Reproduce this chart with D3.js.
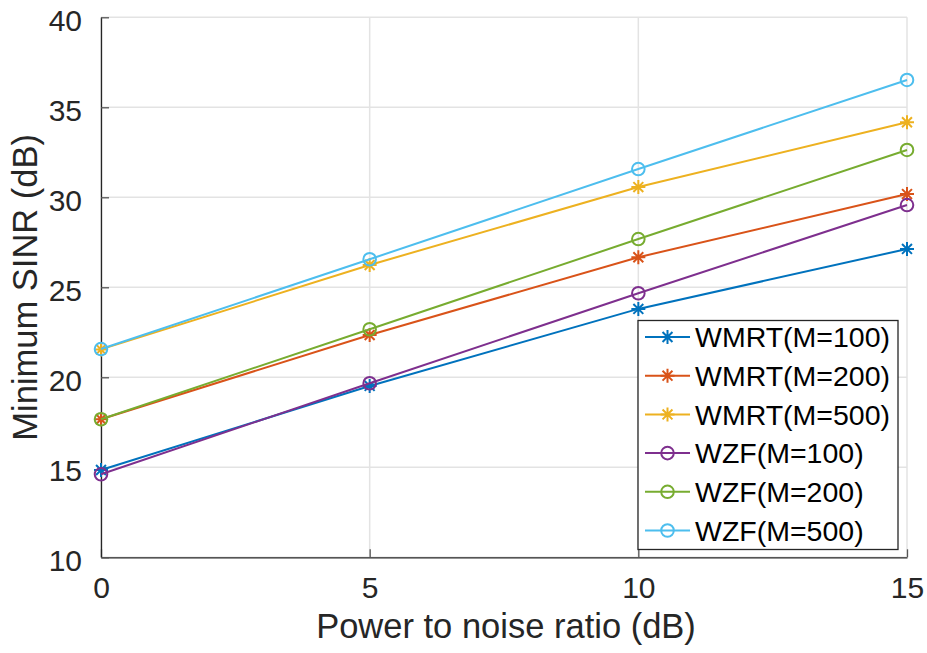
<!DOCTYPE html>
<html>
<head>
<meta charset="utf-8">
<script src="https://cdn.jsdelivr.net/npm/d3@7"></script>
<style>
  html, body { margin: 0; padding: 0; background: #fff; }
  svg { display: block; font-family: "Liberation Sans", Arial, Helvetica, sans-serif; }
</style>
</head>
<body>
<svg id="chart" width="927" height="653"></svg>
<script>
// Power to noise ratio (dB)
const pnr = [0, 5, 10, 15];

// Minimum SINR (dB) per scheme
const wmrt100 = [14.85, 19.52, 23.80, 27.13];
const wmrt200 = [17.67, 22.35, 26.67, 30.18];
const wmrt500 = [21.55, 26.24, 30.57, 34.17];
const wzf100  = [14.61, 19.67, 24.67, 29.57];
const wzf200  = [17.67, 22.67, 27.68, 32.63];
const wzf500  = [21.57, 26.56, 31.57, 36.52];

const seriesNames  = ["WMRT(M=100)", "WMRT(M=200)", "WMRT(M=500)", "WZF(M=100)", "WZF(M=200)", "WZF(M=500)"];
const seriesValues = [wmrt100, wmrt200, wmrt500, wzf100, wzf200, wzf500];
const seriesMarker = ["star", "star", "star", "circle", "circle", "circle"];
const seriesColors = ["#0072BD", "#D95319", "#EDB120", "#7E2F8E", "#77AC30", "#4DBEEE"];

const xTicks = [0, 5, 10, 15];
const yTicks = [10, 15, 20, 25, 30, 35, 40];

const svg = d3.select("#chart");
const plot = { left: 101, right: 907, top: 17.3, bottom: 557.3 };

const x = d3.scaleLinear().domain([0, 15]).range([plot.left, plot.right]);
const y = d3.scaleLinear().domain([10, 40]).range([plot.bottom, plot.top]);

const axisColor = "#262626";
const gridColor = "#e3e3e3";

// grid
const grid = svg.append("g");
grid.selectAll("line.gx").data(xTicks).join("line")
  .attr("x1", d => x(d)).attr("x2", d => x(d))
  .attr("y1", plot.top).attr("y2", plot.bottom)
  .attr("stroke", gridColor).attr("stroke-width", 1.5);
grid.selectAll("line.gy").data(yTicks).join("line")
  .attr("x1", plot.left).attr("x2", plot.right)
  .attr("y1", d => y(d)).attr("y2", d => y(d))
  .attr("stroke", gridColor).attr("stroke-width", 1.5);

// axes (ticks inside)
const xAxis = d3.axisBottom(x).tickValues(xTicks).tickSizeInner(-8).tickSizeOuter(0).tickPadding(19);
const yAxis = d3.axisLeft(y).tickValues(yTicks).tickSizeInner(-8).tickSizeOuter(0).tickPadding(19);

const gx = svg.append("g").attr("transform", `translate(0,${plot.bottom})`).call(xAxis);
const gy = svg.append("g").attr("transform", `translate(${plot.left},0)`).call(yAxis);

[gx, gy].forEach(g => {
  g.select(".domain").attr("stroke", axisColor).attr("stroke-width", 1.3);
  g.selectAll(".tick line").attr("stroke", "#555").attr("stroke-width", 1.3);
  g.selectAll(".tick text").attr("fill", axisColor)
    .style("font-size", "30px").style("font-family", "'Liberation Sans', Arial, sans-serif");
});
gx.selectAll(".tick text").attr("dy", "0.71em");
gy.selectAll(".tick text").attr("dy", "0.45em");

// axis labels
svg.append("text")
  .attr("x", (plot.left + plot.right) / 2 + 2).attr("y", 638)
  .attr("text-anchor", "middle").attr("fill", axisColor)
  .style("font-size", "34.5px")
  .text("Power to noise ratio (dB)");

svg.append("text")
  .attr("transform", `translate(37,${(plot.top + plot.bottom) / 2}) rotate(-90)`)
  .attr("text-anchor", "middle").attr("fill", axisColor)
  .style("font-size", "34.5px")
  .text("Minimum SINR (dB)");

// marker drawing
function drawMarker(g, type, cx, cy, color) {
  if (type === "circle") {
    g.append("circle").attr("cx", cx).attr("cy", cy).attr("r", 6.3)
      .attr("fill", "none").attr("stroke", color).attr("stroke-width", 2);
  } else {
    const r = 7, d = r * Math.SQRT1_2;
    const p = `M${cx - r},${cy}L${cx + r},${cy}M${cx},${cy - r}L${cx},${cy + r}` +
              `M${cx - d},${cy - d}L${cx + d},${cy + d}M${cx - d},${cy + d}L${cx + d},${cy - d}`;
    g.append("path").attr("d", p).attr("fill", "none").attr("stroke", color).attr("stroke-width", 2);
  }
}

// series
const line = d3.line().x((d, i) => x(pnr[i])).y(d => y(d));
seriesValues.forEach((vals, k) => {
  const g = svg.append("g");
  g.append("path").datum(vals).attr("d", line)
    .attr("fill", "none").attr("stroke", seriesColors[k]).attr("stroke-width", 2);
  vals.forEach((v, i) => drawMarker(g, seriesMarker[k], x(pnr[i]), y(v), seriesColors[k]));
});

// legend
const lg = svg.append("g");
lg.append("rect").attr("x", 638).attr("y", 320.5).attr("width", 260).attr("height", 229)
  .attr("fill", "#fff").attr("stroke", axisColor).attr("stroke-width", 1.3);
seriesNames.forEach((name, k) => {
  const cy = 337 + k * 38.7;
  lg.append("line").attr("x1", 645).attr("x2", 690).attr("y1", cy).attr("y2", cy)
    .attr("stroke", seriesColors[k]).attr("stroke-width", 2);
  drawMarker(lg, seriesMarker[k], 667.5, cy, seriesColors[k]);
  lg.append("text").attr("x", 695).attr("y", cy).attr("dy", "0.36em")
    .attr("fill", "#000").style("font-size", "28.5px").text(name);
});
</script>
</body>
</html>
